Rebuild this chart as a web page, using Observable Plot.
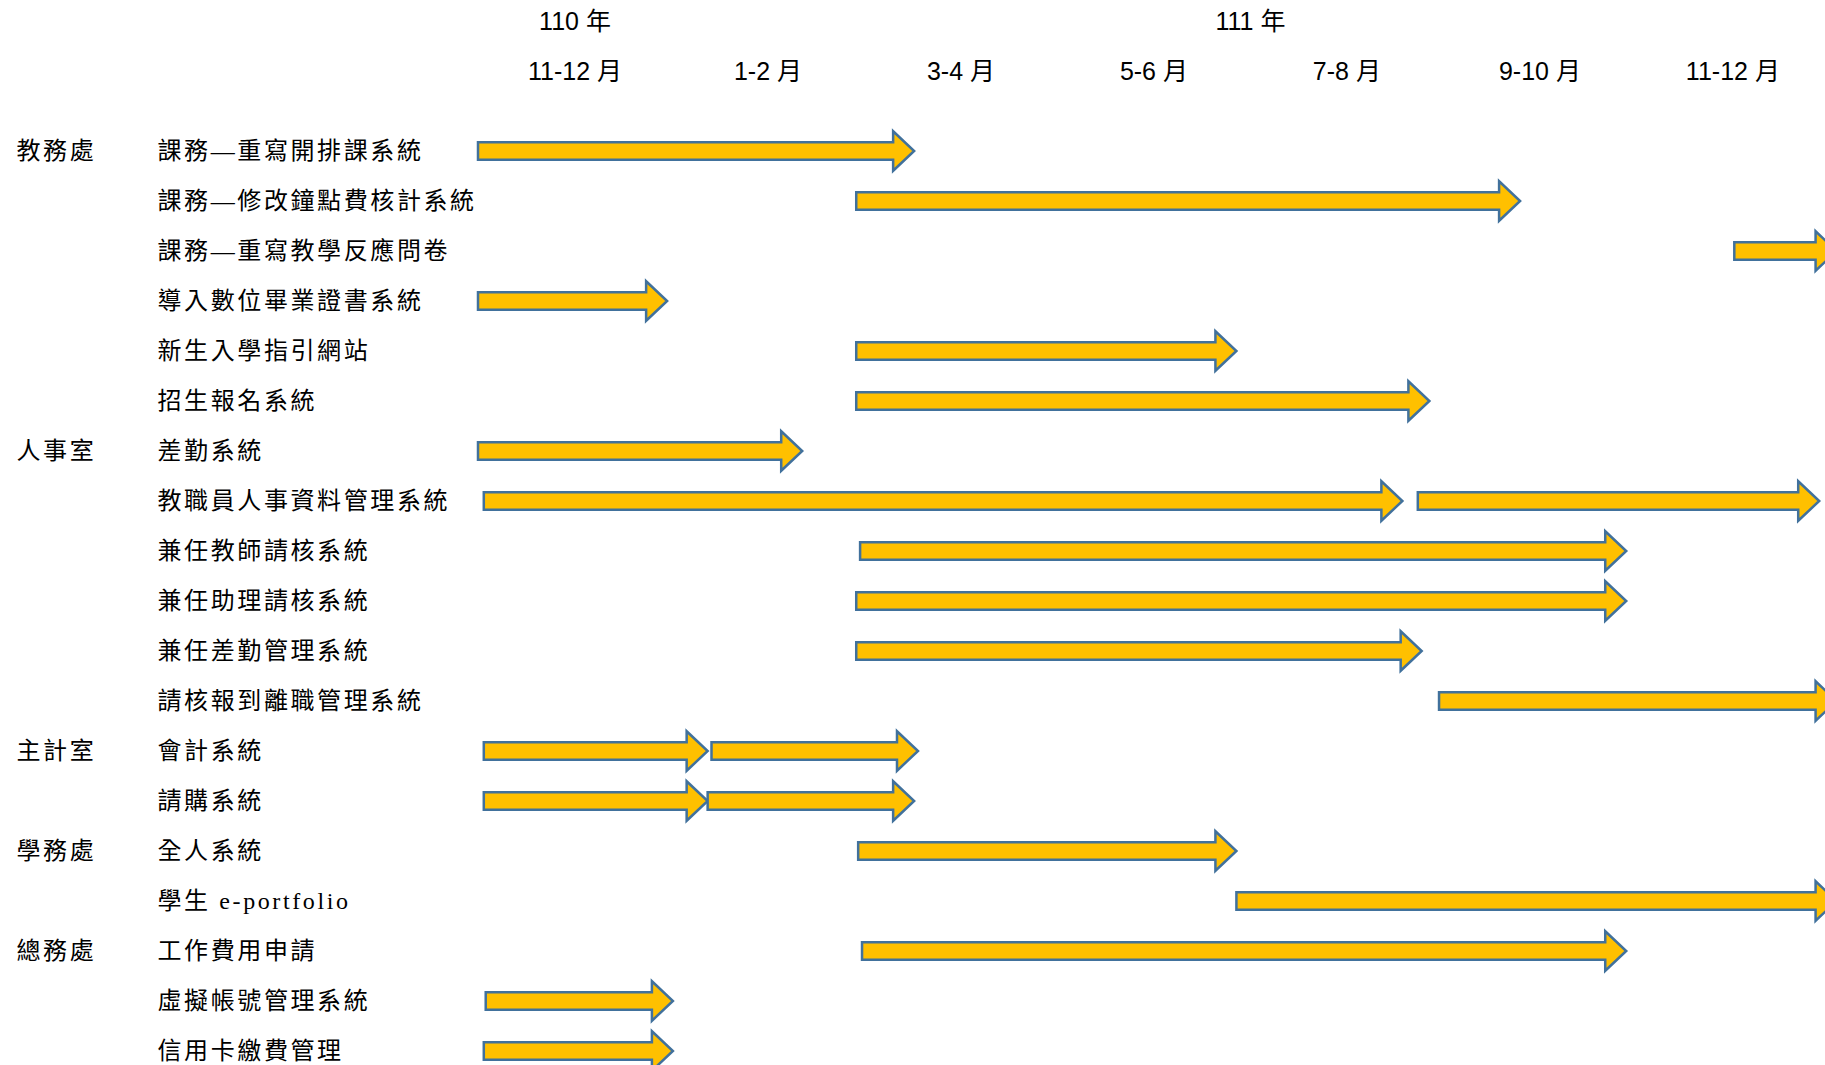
<!DOCTYPE html>
<html><head><meta charset="utf-8">
<script src="https://cdn.jsdelivr.net/npm/d3@7"></script>
<script src="https://cdn.jsdelivr.net/npm/@observablehq/plot@0.6"></script>
<style>
html,body{margin:0;padding:0;background:#fff;overflow:hidden;}
g[font-size="24"] text{letter-spacing:2.6px;}
</style>
</head><body><div id="chart"></div>
<script>
// Period columns (bimonthly), 110 年 Nov – 111 年 Dec
const periods = ["11-12 月","1-2 月","3-4 月","5-6 月","7-8 月","9-10 月","11-12 月"];
const years = ["110 年","111 年"];
const yearStart = [0, 1];
const yearEnd = [1, 7];

const tasks = [
  "課務—重寫開排課系統","課務—修改鐘點費核計系統","課務—重寫教學反應問卷","導入數位畢業證書系統",
  "新生入學指引網站","招生報名系統","差勤系統","教職員人事資料管理系統","兼任教師請核系統",
  "兼任助理請核系統","兼任差勤管理系統","請核報到離職管理系統","會計系統","請購系統",
  "全人系統","學生 e-portfolio","工作費用申請","虛擬帳號管理系統","信用卡繳費管理"
];
const depts = [
  "教務處","教務處","教務處","教務處","教務處","教務處",
  "人事室","人事室","人事室","人事室","人事室","人事室",
  "主計室","主計室","學務處","學務處","總務處","總務處","總務處"
];
// Arrow segments: task index, start and end (in bimonth periods from 110 年 11 月)
const segTask  = [0, 1, 2, 3, 4, 5, 6, 7, 7, 8, 9, 10, 11, 12, 12, 13, 13, 14, 15, 16, 17, 18];
const segStart = [0.00, 1.96, 6.51, 0.00, 1.96, 1.96, 0.00, 0.03, 4.87, 1.98, 1.96, 1.96, 4.98, 0.03, 1.21, 0.03, 1.19, 1.97, 3.93, 1.99, 0.04, 0.03];
const segEnd   = [2.26, 5.40, 7.04, 0.98, 3.93, 4.93, 1.68, 4.79, 6.95, 5.95, 5.95, 4.89, 7.04, 1.19, 2.28, 1.19, 2.26, 3.93, 7.04, 5.95, 1.01, 1.01];

const segs = segTask.map((ti, i) => ({task: tasks[ti], start: segStart[i], end: segEnd[i]}));
const rows = tasks.map((t, i) => ({task: t, dept: depts[i], first: i === 0 || depts[i] !== depts[i-1]}));
const periodRows = periods.map((p, i) => ({label: p, t: i + 0.5}));
const yearRows = years.map((y, i) => ({label: y, t: (yearStart[i] + yearEnd[i]) / 2}));

const cjk = "'Liberation Serif','Noto Sans CJK TC',serif";
const sans = "'Liberation Sans','Noto Sans CJK TC',sans-serif";

function blockArrows(index, scales, values) {
  const g = d3.create("svg:g").attr("aria-label", "arrows");
  const h = 8.75, H = 19.75, L = 21;
  for (const i of index) {
    const x1 = values.x1[i], x2 = values.x2[i], cy = values.y1[i];
    const hx = x2 - L;
    const p = `M${x1},${cy-h}L${hx},${cy-h}L${hx},${cy-H}L${x2},${cy}L${hx},${cy+H}L${hx},${cy+h}L${x1},${cy+h}Z`;
    g.append("path").attr("d", p).attr("fill", "#FFC000").attr("stroke", "#41719C")
      .attr("stroke-width", 2.5).attr("stroke-linejoin", "miter");
  }
  return g.node();
}

const chart = Plot.plot({
  width: 1825,
  height: 1065,
  marginLeft: 478,
  marginRight: 0,
  marginTop: 100,
  marginBottom: 14,
  style: {background: "#fff", overflow: "hidden"},
  x: {domain: [0, 6.98], axis: null},
  y: {type: "point", domain: tasks, range: [150, 1052], padding: 0, axis: null},
  marks: [
    Plot.link(segs, {x1: "start", x2: "end", y1: "task", y2: "task", render: blockArrows}),
    Plot.text(rows, {y: "task", text: "task", frameAnchor: "left", dx: -321, textAnchor: "start",
      lineAnchor: "middle", fontSize: 24, fontFamily: cjk, fill: "#000"}),
    Plot.text(rows.filter(d => d.first), {y: "task", text: "dept", frameAnchor: "left", dx: -462, textAnchor: "start",
      lineAnchor: "middle", fontSize: 24, fontFamily: cjk, fill: "#000"}),
    Plot.text(periodRows, {x: "t", text: "label", frameAnchor: "top", lineAnchor: "middle", dy: -29,
      fontSize: 25, fontFamily: sans, fill: "#000"}),
    Plot.text(yearRows, {x: "t", text: "label", frameAnchor: "top", lineAnchor: "middle", dy: -79,
      fontSize: 25, fontFamily: sans, fill: "#000"})
  ]
});
document.getElementById("chart").appendChild(chart);
</script>
</body></html>
